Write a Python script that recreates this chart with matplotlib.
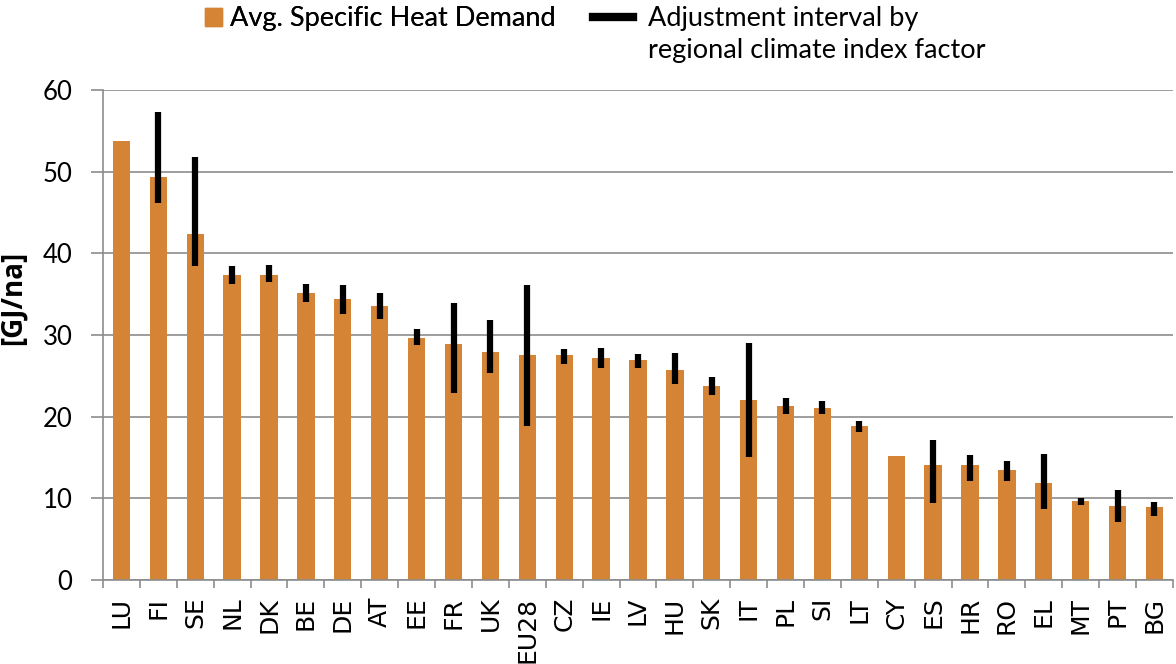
import matplotlib.pyplot as plt
import numpy as np
from matplotlib.lines import Line2D
from matplotlib.patches import Patch

# average specific heat demand per country and the adjustment interval
countries = ["LU", "FI", "SE", "NL", "DK", "BE", "DE", "AT", "EE", "FR", "UK", "EU28", "CZ", "IE", "LV",
             "HU", "SK", "IT", "PL", "SI", "LT", "CY", "ES", "HR", "RO", "EL", "MT", "PT", "BG"]
demand = [53.7, 49.4, 42.4, 37.3, 37.3, 35.2, 34.4, 33.5, 29.6, 28.9, 27.9, 27.6, 27.5, 27.2, 26.9,
          25.7, 23.8, 22.1, 21.3, 21.1, 18.8, 15.2, 14.1, 14.1, 13.5, 11.9, 9.7, 9.0, 8.9]
adj_low = [None, 46.2, 38.4, 36.3, 36.5, 34.0, 32.6, 31.9, 28.8, 22.9, 25.3, 18.9, 26.5, 25.9, 26.0,
           24.0, 22.7, 15.1, 20.3, 20.3, 18.1, None, 9.4, 12.1, 12.1, 8.65, 9.2, 7.1, 7.8]
adj_high = [None, 57.3, 51.8, 38.4, 38.6, 36.3, 36.1, 35.2, 30.7, 33.9, 31.8, 36.1, 28.3, 28.4, 27.7,
            27.8, 24.8, 29.0, 22.25, 21.9, 19.5, None, 17.1, 15.35, 14.6, 15.4, 10.1, 11.0, 9.6]

orange = "#D58334"
grid_c = "#8C8C8C"

fig = plt.figure(figsize=(11.76, 6.64), dpi=100)
ax = fig.add_axes([0.0876, 0.1265, 0.9098, 0.738])

x = np.arange(len(countries))
ax.bar(x, demand, width=0.47, color=orange, zorder=2)

ex = [i for i in x if adj_low[i] is not None]
ax.vlines(ex, [adj_low[i] for i in ex], [adj_high[i] for i in ex], color="black", lw=4.5, zorder=3)

ax.set_xlim(-0.5, len(countries) - 0.5)
ax.set_ylim(0, 60)
ax.set_yticks(range(0, 61, 10))
ax.yaxis.grid(True, color=grid_c, lw=1.2, zorder=0)
ax.set_axisbelow(True)

ax.set_xticks(x)
ax.set_xticklabels(countries, rotation=90, fontsize=18, family="DejaVu Sans")
ax.set_xticks(np.arange(-0.5, len(countries), 1), minor=True)
ax.tick_params(axis="x", which="major", length=0, pad=12)
ax.tick_params(axis="x", which="minor", length=6, color=grid_c, width=1.2)
ax.tick_params(axis="y", length=9, color=grid_c, width=1.2, labelsize=18.5, pad=13)
for lab in ax.get_yticklabels():
    lab.set_family("Lato")

for side in ["top", "right"]:
    ax.spines[side].set_visible(False)
ax.spines["left"].set_color(grid_c)
ax.spines["bottom"].set_color(grid_c)
ax.spines["left"].set_linewidth(1.2)
ax.spines["bottom"].set_linewidth(1.2)

ax.set_ylabel("[GJ/na]", fontsize=20, fontweight="bold", family="Open Sans")
ax.yaxis.set_label_coords(-0.070, 0.575)

leg_font = {"family": "Lato", "size": 19.5}
leg1 = fig.legend([Patch(color=orange)], ["Avg. Specific Heat Demand"], loc="upper left",
                  bbox_to_anchor=(0.163, 1.011), frameon=False, prop=leg_font, borderpad=0,
                  handlelength=0.63, handleheight=0.63, handletextpad=0.3)
leg2 = fig.legend([Line2D([], [], color="black", lw=6)], ["Adjustment interval by"], loc="upper left",
                  bbox_to_anchor=(0.493, 1.011), frameon=False, prop=leg_font, borderpad=0,
                  handlelength=1.48, handletextpad=0.55)
fig.add_artist(leg1)

fig.canvas.draw()
bb = leg2.get_texts()[0].get_window_extent()
fig.text(bb.x0 / fig.bbox.width, (bb.y0 - 32) / fig.bbox.height, "regional climate index factor",
         family="Lato", size=19.5, va="bottom", ha="left")

fig.savefig("out.png", dpi=100)
